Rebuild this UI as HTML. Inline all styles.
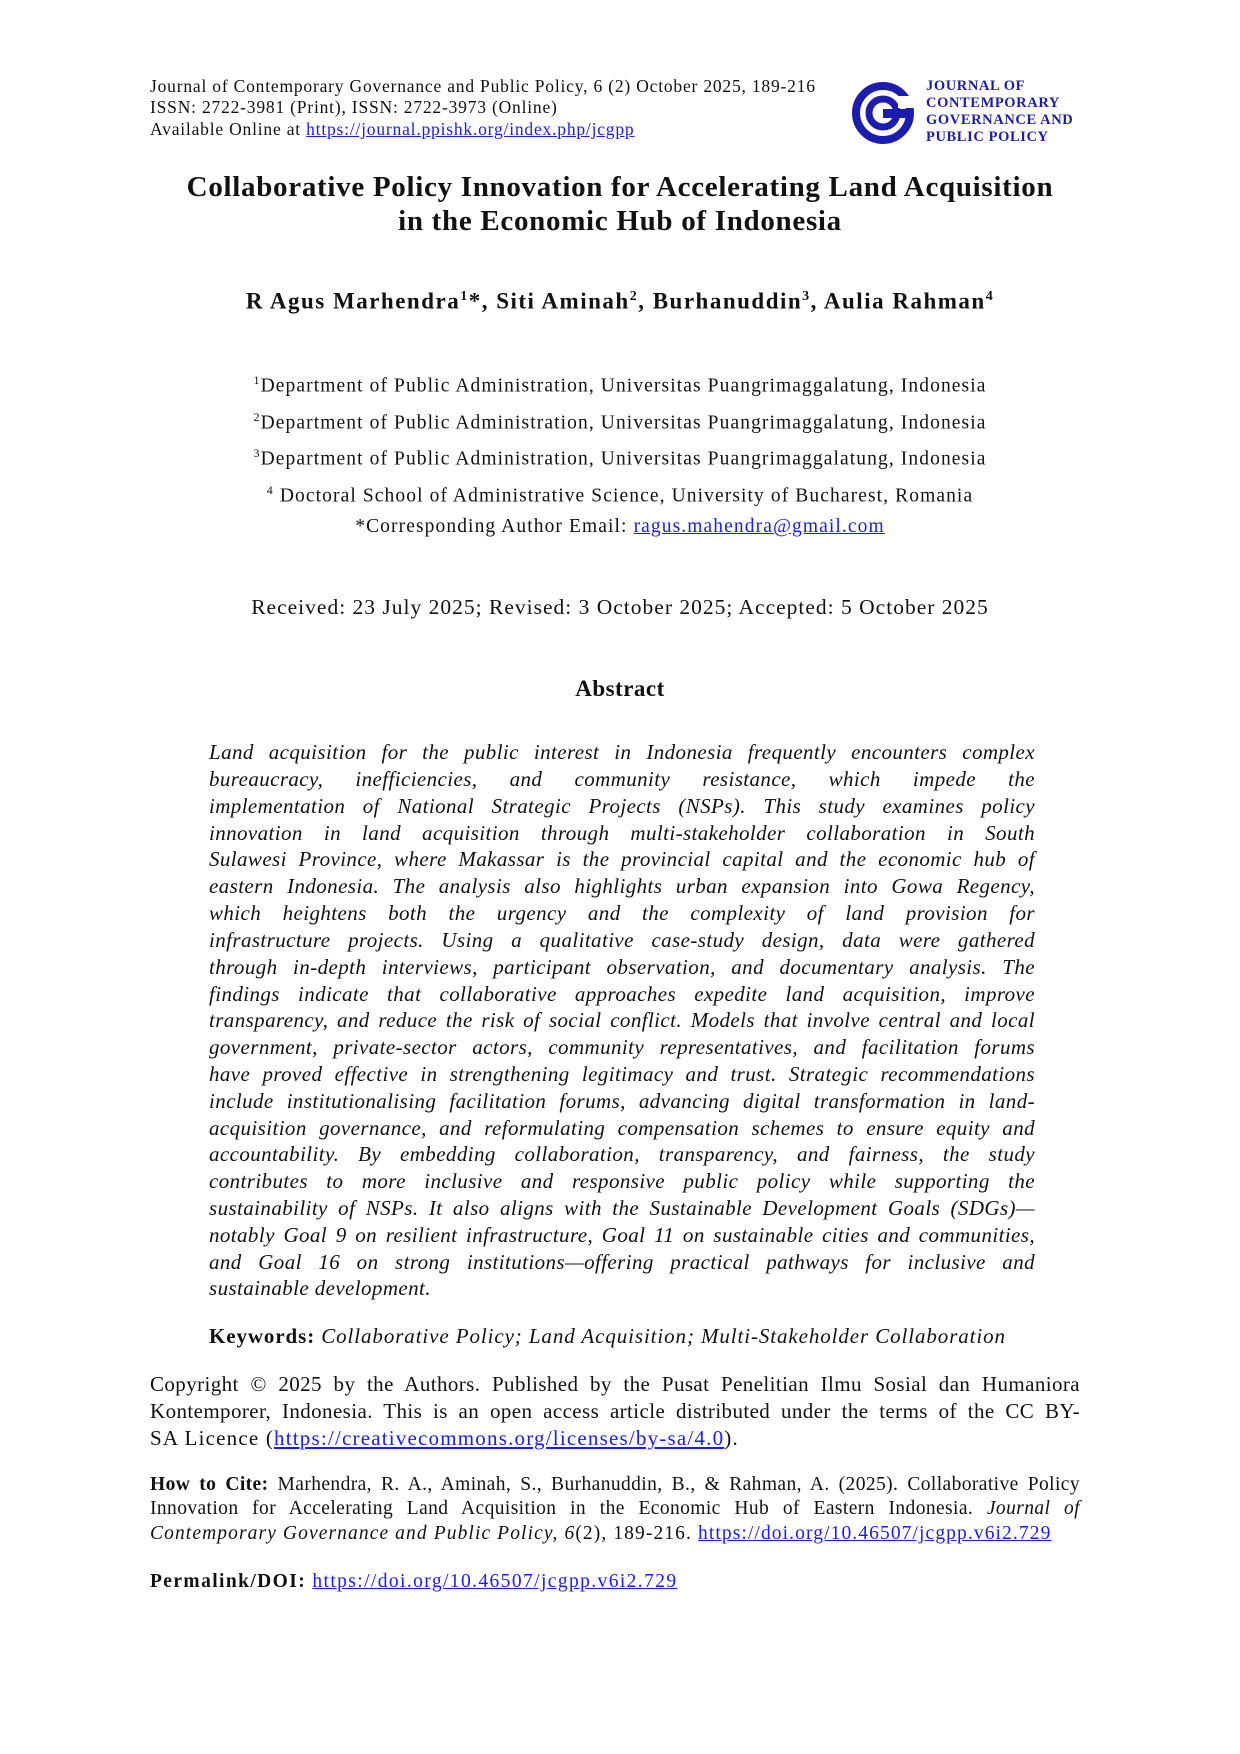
<!DOCTYPE html>
<html><head><meta charset="utf-8">
<style>
body{margin:0;background:#fff;}
#p{position:relative;width:1240px;height:1754px;overflow:hidden;font-family:"Liberation Serif",serif;color:#111;}
.l{position:absolute;white-space:nowrap;}
.c{left:0;width:1240px;text-align:center;}
a{color:#1a1aff;text-decoration:underline;}
.j{position:absolute;left:209px;width:826px;font-style:italic;font-size:21px;letter-spacing:0.4px;text-align:justify;text-align-last:justify;white-space:nowrap;line-height:26px;}
.j.n{text-align-last:left;}
.k{position:absolute;left:150px;width:930px;font-size:21px;letter-spacing:0.4px;text-align:justify;text-align-last:justify;white-space:nowrap;line-height:26px;}
.k.n{text-align-last:left;}
.h{font-size:19.5px;}
</style></head><body><div id="p">
<div class="l" style="left:150px;top:75px;font-size:17.5px;line-height:22px;letter-spacing:0.8px">Journal of Contemporary Governance and Public Policy, 6 (2) October 2025, 189-216</div>
<div class="l" style="left:150px;top:96px;font-size:17.5px;line-height:22px;letter-spacing:0.8px">ISSN: 2722-3981 (Print), ISSN: 2722-3973 (Online)</div>
<div class="l" style="left:150px;top:118px;font-size:17.5px;line-height:22px;letter-spacing:0.8px">Available Online at <a>https://journal.ppishk.org/index.php/jcgpp</a></div>
<svg style="position:absolute;left:850px;top:80px" width="68" height="66" viewBox="0 0 68 66">
<circle cx="33" cy="33" r="27" fill="none" stroke="#1c1cb0" stroke-width="8"/>
<circle cx="33" cy="33" r="14" fill="none" stroke="#1c1cb0" stroke-width="7"/>
<rect x="33" y="29" width="30" height="9" fill="#1c1cb0"/>
<rect x="48" y="16" width="16" height="12" fill="#fff"/>
</svg>
<div class="l" style="left:926px;top:78px;font-size:14.5px;line-height:17px;font-weight:bold;color:#1c1cb0;letter-spacing:0.6px">JOURNAL OF<br>CONTEMPORARY<br>GOVERNANCE AND<br>PUBLIC POLICY</div>
<div class="l c" style="top:170px;font-size:29px;font-weight:bold;line-height:34px;letter-spacing:0.7px">Collaborative Policy Innovation for Accelerating Land Acquisition<br>in the Economic Hub of Indonesia</div>
<div class="l c" style="top:283px;font-size:23px;font-weight:bold;line-height:28px;letter-spacing:1.5px">R Agus Marhendra<sup style="font-size:14px">1</sup>*, Siti Aminah<sup style="font-size:14px">2</sup>, Burhanuddin<sup style="font-size:14px">3</sup>, Aulia Rahman<sup style="font-size:14px">4</sup></div>
<div style="letter-spacing:1.1px">
<div class="l c" style="top:368px;font-size:19.5px;line-height:24px"><sup style="font-size:12px">1</sup>Department of Public Administration, Universitas Puangrimaggalatung, Indonesia</div>
<div class="l c" style="top:405px;font-size:19.5px;line-height:24px"><sup style="font-size:12px">2</sup>Department of Public Administration, Universitas Puangrimaggalatung, Indonesia</div>
<div class="l c" style="top:441px;font-size:19.5px;line-height:24px"><sup style="font-size:12px">3</sup>Department of Public Administration, Universitas Puangrimaggalatung, Indonesia</div>
<div class="l c" style="top:478px;font-size:19.5px;line-height:24px"><sup style="font-size:12px">4</sup> Doctoral School of Administrative Science, University of Bucharest, Romania</div>
<div class="l c" style="top:515px;font-size:19.5px;line-height:24px">*Corresponding Author Email: <a>ragus.mahendra@gmail.com</a></div>
</div>
<div class="l c" style="top:594px;font-size:21.5px;line-height:26px;letter-spacing:1px">Received: 23 July 2025; Revised: 3 October 2025; Accepted: 5 October 2025</div>
<div class="l c" style="top:676px;font-size:23px;font-weight:bold;line-height:26px;letter-spacing:0.5px">Abstract</div>
<div class="j" style="top:739px">Land acquisition for the public interest in Indonesia frequently encounters complex</div>
<div class="j" style="top:766px">bureaucracy, inefficiencies, and community resistance, which impede the</div>
<div class="j" style="top:793px">implementation of National Strategic Projects (NSPs). This study examines policy</div>
<div class="j" style="top:820px">innovation in land acquisition through multi-stakeholder collaboration in South</div>
<div class="j" style="top:846px">Sulawesi Province, where Makassar is the provincial capital and the economic hub of</div>
<div class="j" style="top:873px">eastern Indonesia. The analysis also highlights urban expansion into Gowa Regency,</div>
<div class="j" style="top:900px">which heightens both the urgency and the complexity of land provision for</div>
<div class="j" style="top:927px">infrastructure projects. Using a qualitative case-study design, data were gathered</div>
<div class="j" style="top:954px">through in-depth interviews, participant observation, and documentary analysis. The</div>
<div class="j" style="top:981px">findings indicate that collaborative approaches expedite land acquisition, improve</div>
<div class="j" style="top:1007px">transparency, and reduce the risk of social conflict. Models that involve central and local</div>
<div class="j" style="top:1034px">government, private-sector actors, community representatives, and facilitation forums</div>
<div class="j" style="top:1061px">have proved effective in strengthening legitimacy and trust. Strategic recommendations</div>
<div class="j" style="top:1088px">include institutionalising facilitation forums, advancing digital transformation in land-</div>
<div class="j" style="top:1115px">acquisition governance, and reformulating compensation schemes to ensure equity and</div>
<div class="j" style="top:1141px">accountability. By embedding collaboration, transparency, and fairness, the study</div>
<div class="j" style="top:1168px">contributes to more inclusive and responsive public policy while supporting the</div>
<div class="j" style="top:1195px">sustainability of NSPs. It also aligns with the Sustainable Development Goals (SDGs)—</div>
<div class="j" style="top:1222px">notably Goal 9 on resilient infrastructure, Goal 11 on sustainable cities and communities,</div>
<div class="j" style="top:1249px">and Goal 16 on strong institutions—offering practical pathways for inclusive and</div>
<div class="j n" style="top:1275px">sustainable development.</div>
<div class="l" style="left:209px;top:1323px;font-size:21px;line-height:26px;letter-spacing:0.9px"><b>Keywords:</b> <i>Collaborative Policy; Land Acquisition; Multi-Stakeholder Collaboration</i></div>
<div class="k" style="top:1371px">Copyright © 2025 by the Authors. Published by the Pusat Penelitian Ilmu Sosial dan Humaniora</div>
<div class="k" style="top:1398px">Kontemporer, Indonesia. This is an open access article distributed under the terms of the CC BY-</div>
<div class="k n" style="top:1425px;letter-spacing:1.2px">SA Licence (<a>https://creativecommons.org/licenses/by-sa/4.0</a>).</div>
<div class="k h" style="top:1472px"><b>How to Cite:</b> Marhendra, R. A., Aminah, S., Burhanuddin, B., &amp; Rahman, A. (2025). Collaborative Policy</div>
<div class="k h" style="top:1496px">Innovation for Accelerating Land Acquisition in the Economic Hub of Eastern Indonesia. <i>Journal of</i></div>
<div class="k h n" style="top:1521px;letter-spacing:1.1px"><i>Contemporary Governance and Public Policy, 6</i>(2), 189-216. <a>https://doi.org/10.46507/jcgpp.v6i2.729</a></div>
<div class="l h" style="left:150px;top:1569px;line-height:26px;letter-spacing:1.4px"><b>Permalink/DOI:</b> <a>https://doi.org/10.46507/jcgpp.v6i2.729</a></div>
</div></body></html>
